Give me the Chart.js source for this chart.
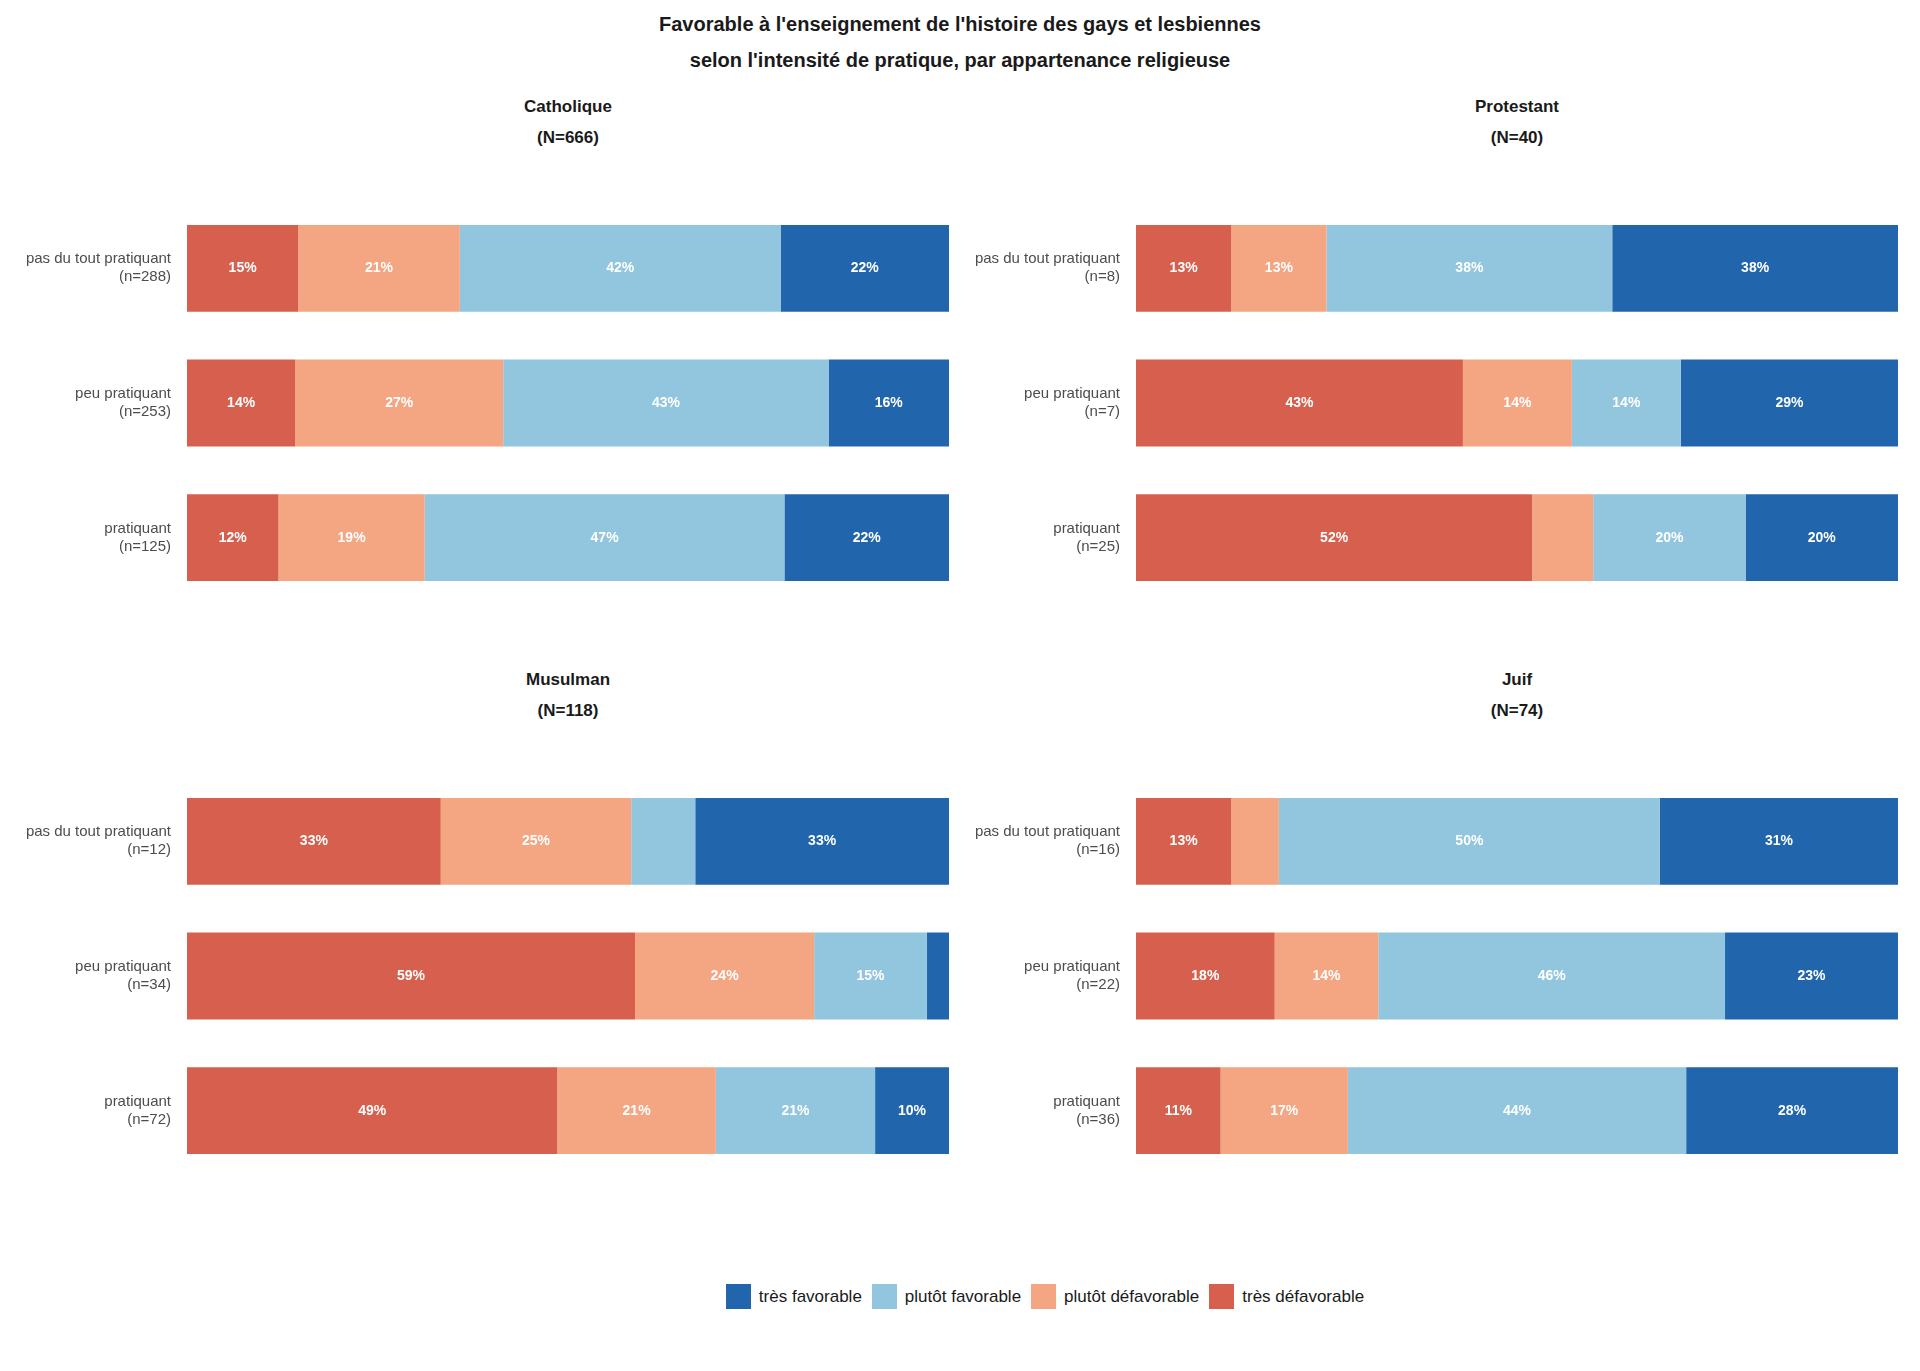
<!DOCTYPE html>
<html><head><meta charset="utf-8">
<script src="https://cdn.jsdelivr.net/npm/chart.js@4"></script>
<style>
body{margin:0;width:1920px;height:1371px;background:#fff;font-family:"Liberation Sans",Arial,sans-serif;position:relative;overflow:hidden}
.t{position:absolute;text-align:center;font-weight:bold;color:#1a1a1a}
.c{position:absolute}
#leg{position:absolute;top:1284px;left:0;width:2090px;display:flex;justify-content:center;gap:10px;font-size:17px;color:#1a1a1a;align-items:center}
#leg span.b{display:inline-block;width:25px;height:25px;margin-right:8px;vertical-align:middle}
#leg div{display:flex;align-items:center}
</style></head><body>
<div class="t" style="top:6px;left:0;width:1920px;font-size:20px;line-height:36px">Favorable à l'enseignement de l'histoire des gays et lesbiennes<br>selon l'intensité de pratique, par appartenance religieuse</div>
<div id="leg"></div>
<script>
const levels=["très défavorable","plutôt défavorable","plutôt favorable","très favorable"];
const colors=["#d6604d","#f4a582","#92c5de","#2166ac"];
const panelNames=["Catholique\n(N=666)","Protestant\n(N=40)","Musulman\n(N=118)","Juif\n(N=74)"];
const rowsCath=[["pas du tout pratiquant","(n=288)"],["peu pratiquant","(n=253)"],["pratiquant","(n=125)"]];
const rowsProt=[["pas du tout pratiquant","(n=8)"],["peu pratiquant","(n=7)"],["pratiquant","(n=25)"]];
const rowsMus=[["pas du tout pratiquant","(n=12)"],["peu pratiquant","(n=34)"],["pratiquant","(n=72)"]];
const rowsJuif=[["pas du tout pratiquant","(n=16)"],["peu pratiquant","(n=22)"],["pratiquant","(n=36)"]];
// values per row: [très défav, plutôt défav, plutôt fav, très fav]
const cath=[[14.6,21.2,42.1,22.1],[14.2,27.3,42.7,15.8],[12.0,19.2,47.2,21.6]];
const prot=[[12.5,12.5,37.5,37.5],[42.9,14.3,14.3,28.5],[52,8,20,20]];
const mus=[[33.3,25,8.4,33.3],[58.8,23.5,14.8,2.9],[48.6,20.8,20.9,9.7]];
const juif=[[12.5,6.25,50,31.25],[18.2,13.6,45.5,22.7],[11.1,16.7,44.4,27.8]];

const leg=document.getElementById('leg');
[3,2,1,0].forEach(i=>{const d=document.createElement('div');d.innerHTML='<span class="b" style="background:'+colors[i]+'"></span>'+levels[i];leg.appendChild(d);});

const labelPlugin={id:'lbl',afterDatasetsDraw(ch){const ctx=ch.ctx;ctx.save();ctx.font='bold 14px "Liberation Sans",Arial';ctx.fillStyle='#fff';ctx.textAlign='center';ctx.textBaseline='middle';
ch.data.datasets.forEach((ds,di)=>{ch.getDatasetMeta(di).data.forEach((el,i)=>{const v=ds.data[i];if(v<9)return;const x=(el.x+el.base)/2;ctx.fillText(Math.round(v)+'%',x,el.y);});});ctx.restore();}};

function panel(name,rows,vals,left,titleTop,top){
  const t=document.createElement('div');t.className='t';t.style.cssText='top:'+titleTop+'px;left:'+(left+187)+'px;width:762px;font-size:17px;line-height:31px';t.innerHTML=name.replace('\n','<br>');document.body.appendChild(t);
  const c=document.createElement('canvas');c.className='c';c.style.cssText='left:'+left+'px;top:'+top+'px;width:950px;height:456px';document.body.appendChild(c);
  new Chart(c,{type:'bar',data:{labels:rows,datasets:levels.map((l,k)=>({label:l,data:vals.map(r=>r[k]),backgroundColor:colors[k],barPercentage:0.645,categoryPercentage:1}))},
  options:{indexAxis:'y',responsive:false,animation:false,maintainAspectRatio:false,layout:{padding:{right:1}},
  plugins:{legend:{display:false},tooltip:{enabled:false}},
  scales:{x:{stacked:true,min:0,max:100,display:false},y:{stacked:true,grid:{display:false},border:{display:false},ticks:{color:'#4d4d4d',font:{size:15,family:'"Liberation Sans",Arial'},padding:8},afterFit(s){s.width=187;}}}},plugins:[labelPlugin]});
}
panel(panelNames[0],rowsCath,cath,0,91,175);
panel(panelNames[1],rowsProt,prot,949,91,175);
panel(panelNames[2],rowsMus,mus,0,664,748);
panel(panelNames[3],rowsJuif,juif,949,664,748);
</script></body></html>
